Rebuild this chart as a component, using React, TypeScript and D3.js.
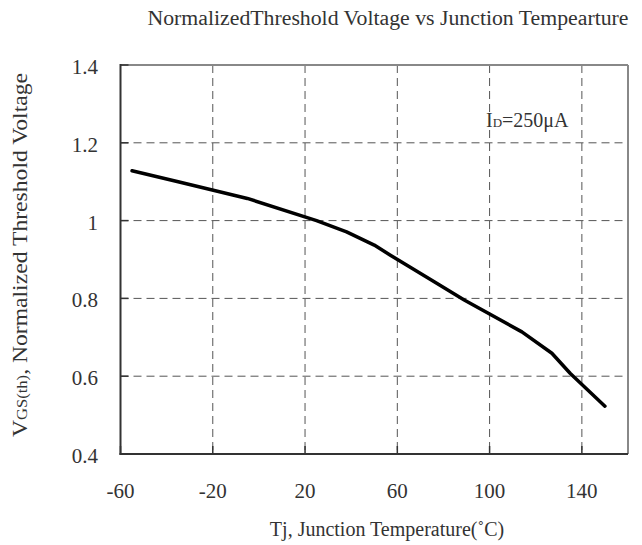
import React from "react";
import * as d3 from "d3";

// Normalized gate threshold voltage versus junction temperature
const temperatures = [-55, -35, -5, 25, 38, 50, 57, 64, 76, 89, 114, 127, 135, 150];
const vthNormalized = [1.128, 1.1, 1.057, 1.0, 0.971, 0.937, 0.911, 0.886, 0.843, 0.796, 0.714, 0.659, 0.607, 0.523];

const xTicks = [-60, -20, 20, 60, 100, 140];
const yTicks = [0.4, 0.6, 0.8, 1, 1.2, 1.4];
const yTickLabels = ["0.4", "0.6", "0.8", "1", "1.2", "1.4"];

const W = 642;
const H = 545;
const plot = { left: 120.5, right: 628, top: 65, bottom: 454 };
const FONT = "'Liberation Serif', 'Times New Roman', serif";

export default function App() {
  const x = d3.scaleLinear().domain([-60, 160]).range([plot.left, plot.right]);
  const y = d3.scaleLinear().domain([0.4, 1.4]).range([plot.bottom, plot.top]);

  const pts: [number, number][] = temperatures.map((t, i) => [t, vthNormalized[i]]);
  const line = d3
    .line<[number, number]>()
    .x((d) => x(d[0]))
    .y((d) => y(d[1]));

  const grid = "#555";
  const dash = "8,5";
  const ink = "#333";

  return (
    <svg
      width={W}
      height={H}
      style={{ position: "absolute", left: 0, top: 0, background: "#fff" }}
      fontFamily={FONT}
    >
      <rect x={0} y={0} width={W} height={H} fill="#fff" />

      {/* dashed grid */}
      {xTicks.slice(1).map((t) => (
        <line key={"gx" + t} x1={x(t)} x2={x(t)} y1={plot.top} y2={plot.bottom}
          stroke={grid} strokeWidth={1} strokeDasharray={dash} />
      ))}
      {yTicks.slice(1, -1).map((v) => (
        <line key={"gy" + v} x1={plot.left} x2={plot.right} y1={y(v)} y2={y(v)}
          stroke={grid} strokeWidth={1} strokeDasharray={dash} />
      ))}

      {/* frame: light top and right, dark left and bottom */}
      <line x1={plot.left} x2={plot.right} y1={plot.top} y2={plot.top} stroke="#888" strokeWidth={2} />
      <line x1={plot.right} x2={plot.right} y1={plot.top} y2={plot.bottom} stroke="#888" strokeWidth={2} />
      <line x1={plot.left} x2={plot.left} y1={plot.top - 1} y2={plot.bottom + 1} stroke="#333" strokeWidth={2} />
      <line x1={plot.left - 1} x2={plot.right} y1={plot.bottom} y2={plot.bottom} stroke="#333" strokeWidth={2} />

      {/* inward tick marks */}
      {yTicks.map((v) => (
        <line key={"ty" + v} x1={plot.left} x2={plot.left + 8} y1={y(v)} y2={y(v)} stroke="#333" strokeWidth={1.5} />
      ))}
      {xTicks.map((t) => (
        <line key={"tx" + t} x1={x(t)} x2={x(t)} y1={plot.bottom} y2={plot.bottom - 8} stroke="#333" strokeWidth={1.5} />
      ))}

      {/* curve */}
      <path d={line(pts) ?? ""} fill="none" stroke="#000" strokeWidth={3.5}
        strokeLinejoin="round" strokeLinecap="round" />

      {/* tick labels */}
      {yTicks.map((v, i) => (
        <text key={"ly" + v} x={98} y={y(v) + 9} textAnchor="end" fontSize={21} fill={ink}>
          {yTickLabels[i]}
        </text>
      ))}
      {xTicks.map((t) => (
        <text key={"lx" + t} x={x(t)} y={498} textAnchor="middle" fontSize={21} fill={ink}>
          {t}
        </text>
      ))}

      {/* annotation */}
      <text x={486} y={127} fontSize={20} fill={ink}>
        I<tspan fontSize={13}>D</tspan>=250μA
      </text>

      {/* titles */}
      <text x={388} y={25} textAnchor="middle" fontSize={20} fill={ink}
        textLength={481} lengthAdjust="spacingAndGlyphs">
        NormalizedThreshold Voltage vs Junction Tempearture
      </text>
      <text x={387} y={536} textAnchor="middle" fontSize={20} fill={ink}>
        Tj, Junction Temperature(˚C)
      </text>
      <text transform={`translate(27,255) rotate(-90)`} textAnchor="middle" fontSize={20} fill={ink}
        textLength={364} lengthAdjust="spacingAndGlyphs">
        V<tspan fontSize={14}>GS(th)</tspan>, Normalized Threshold Voltage
      </text>
    </svg>
  );
}
